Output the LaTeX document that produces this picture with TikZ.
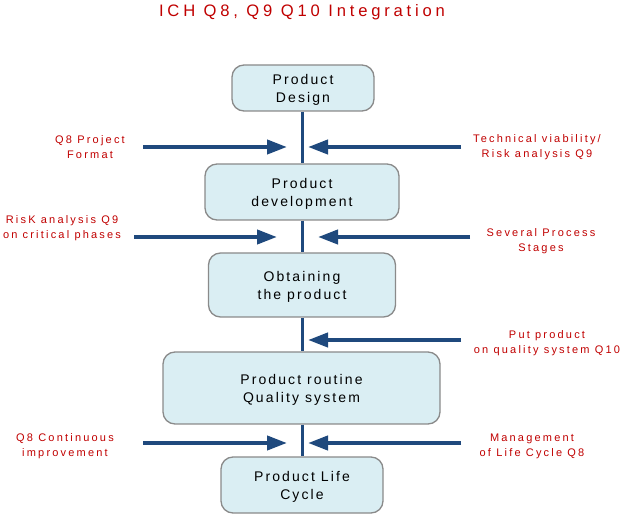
\documentclass[tikz,border=0pt]{standalone}
\usepackage{fontspec}
\setmainfont{Liberation Sans}
\newfontfamily\titlefont[LetterSpace=23]{Liberation Sans}
\newfontfamily\boxfont[LetterSpace=15]{Liberation Sans}
\newfontfamily\lblfont[LetterSpace=20]{Liberation Sans}
\usetikzlibrary{arrows.meta}
\definecolor{lblred}{RGB}{192,0,0}
\definecolor{linkblue}{RGB}{31,73,125}
\definecolor{boxfill}{RGB}{218,238,243}
\definecolor{boxgray}{RGB}{138,138,138}
\begin{document}
\begin{tikzpicture}[x=1pt,y=-1pt,
  stage/.style={draw=boxgray, fill=boxfill, rounded corners=12pt, line width=1.3pt,
    font=\boxfont\fontsize{14}{18}\selectfont, align=center, inner sep=0pt, text depth=0pt},
  link/.style={draw=linkblue, line width=3pt},
  feed/.style={draw=linkblue, line width=4pt, -{Triangle[length=20pt,width=14pt]}},
  lbl/.style={font=\lblfont\fontsize{11}{15}\selectfont, text=lblred, align=center, inner sep=0pt}
]
\useasboundingbox (0,0) rectangle (624,518);
\node[font=\titlefont\fontsize{16.6}{18}\selectfont, text=lblred, inner sep=0pt] (title) at (302,12) {ICH Q8, Q9 Q10 Integration};

\node[stage, minimum width=142pt, minimum height=46pt] (design) at (303,88) {Product\\Design};
\node[stage, minimum width=194pt, minimum height=56pt] (dev) at (302,192) {Product\\development};
\node[stage, minimum width=187pt, minimum height=64pt] (obtain) at (302,285) {Obtaining\\the product};
\node[stage, minimum width=277pt, minimum height=72pt] (quality) at (301.5,388) {Product routine\\Quality system};
\node[stage, minimum width=162pt, minimum height=56pt] (life) at (302,485) {Product Life\\Cycle};

\draw[link] (design.south -| 302,0) -- (dev.north);
\draw[link] (dev.south) -- (obtain.north);
\draw[link] (obtain.south) -- (quality.north -| 302,0);
\draw[link] (quality.south -| 302,0) -- (life.north);

% row 1
\coordinate (l1s) at (143,147); \coordinate (l1e) at (287,147);
\coordinate (r1s) at (461,147); \coordinate (r1e) at (308,147);
\draw[feed] (l1s) -- (l1e);
\draw[feed] (r1s) -- (r1e);
\node[lbl] (t1l) at (90,147) {Q8 Project\\Format};
\node[lbl] (t1r) at (537,147) {Technical viability/\\Risk analysis Q9};

% row 2
\coordinate (l2s) at (134,237); \coordinate (l2e) at (277,237);
\coordinate (r2s) at (470,237); \coordinate (r2e) at (318,237);
\draw[feed] (l2s) -- (l2e);
\draw[feed] (r2s) -- (r2e);
\node[lbl] (t2l) at (62,228.5) {RisK analysis Q9\\on critical phases};
\node[lbl] (t2r) at (541,241) {Several Process\\Stages};

% row 3
\coordinate (r3s) at (461,340); \coordinate (r3e) at (308,340);
\draw[feed] (r3s) -- (r3e);
\node[lbl] (t3r) at (547,343.5) {Put product\\on quality system Q10};

% row 4
\coordinate (l4s) at (143,443); \coordinate (l4e) at (287,443);
\coordinate (r4s) at (461,443); \coordinate (r4e) at (308,443);
\draw[feed] (l4s) -- (l4e);
\draw[feed] (r4s) -- (r4e);
\node[lbl] (t4l) at (65,446.5) {Q8 Continuous\\improvement};
\node[lbl] (t4r) at (532,446.5) {Management\\of Life Cycle Q8};
\end{tikzpicture}
\end{document}
